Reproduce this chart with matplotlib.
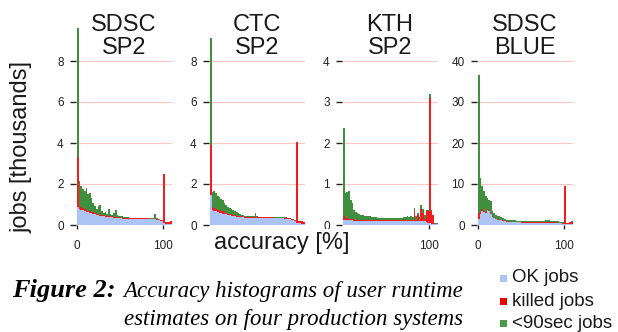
import matplotlib
matplotlib.use('Agg')
import matplotlib.pyplot as plt
from matplotlib.patches import Rectangle

plt.rcParams['font.family'] = ['Liberation Sans', 'DejaVu Sans']

# accuracy bins, 2% wide, 0..110
bin_edges = list(range(0, 112, 2))

titles = [("SDSC", "SP2"), ("CTC", "SP2"), ("KTH", "SP2"), ("SDSC", "BLUE")]
y_ticks = [[0, 2, 4, 6, 8], [0, 2, 4, 6, 8], [0, 1, 2, 3, 4], [0, 10, 20, 30, 40]]
y_tops = [10, 10, 5, 50]
x_ticks = [[0, 100], [], [100], [0, 100]]

# jobs [thousands] per bin, SDSC SP2
ok_sdsc = [0.90, 0.80, 0.75, 0.72, 0.68, 0.65, 0.62, 0.60, 0.57, 0.55,
           0.53, 0.50, 0.48, 0.46, 0.44, 0.42, 0.41, 0.40, 0.40, 0.38,
           0.37, 0.35, 0.34, 0.33, 0.32, 0.32, 0.31, 0.30, 0.30, 0.30,
           0.29, 0.29, 0.29, 0.29, 0.28, 0.28, 0.28, 0.28, 0.28, 0.28,
           0.28, 0.28, 0.27, 0.27, 0.27, 0.28, 0.25, 0.22, 0.20, 0.18,
           0.10, 0.05, 0.05, 0.05, 0.05]
killed_sdsc = [2.40, 0.15, 0.12, 0.10, 0.08, 0.08, 0.08, 0.07, 0.07, 0.06,
               0.06, 0.06, 0.06, 0.05, 0.05, 0.05, 0.05, 0.05, 0.05, 0.05,
               0.05, 0.05, 0.05, 0.05, 0.05, 0.04, 0.04, 0.04, 0.04, 0.04,
               0.04, 0.04, 0.04, 0.04, 0.04, 0.04, 0.04, 0.04, 0.04, 0.04,
               0.04, 0.04, 0.04, 0.04, 0.04, 0.04, 0.04, 0.04, 0.04, 0.05,
               2.40, 0.10, 0.08, 0.10, 0.15]
short_sdsc = [6.30, 1.20, 1.03, 0.93, 0.89, 1.07, 0.80, 0.88, 0.66, 0.44,
              0.36, 0.24, 0.41, 0.49, 0.21, 0.13, 0.16, 0.10, 0.35, 0.12,
              0.08, 0.20, 0.36, 0.12, 0.08, 0.09, 0.07, 0.06, 0.04, 0.04,
              0.03, 0.02, 0.03, 0.02, 0.02, 0.03, 0.02, 0.02, 0.03, 0.02,
              0.02, 0.03, 0.03, 0.02, 0.04, 0.20, 0.04, 0.02, 0.01, 0.00,
              0.00, 0.00, 0.00, 0.00, 0.00]

# CTC SP2
ok_ctc = [1.45, 0.75, 0.70, 0.66, 0.63, 0.60, 0.58, 0.56, 0.54, 0.52,
          0.50, 0.48, 0.46, 0.44, 0.42, 0.41, 0.40, 0.39, 0.38, 0.37,
          0.36, 0.35, 0.35, 0.34, 0.34, 0.34, 0.34, 0.33, 0.33, 0.33,
          0.33, 0.33, 0.33, 0.33, 0.33, 0.33, 0.33, 0.32, 0.32, 0.32,
          0.32, 0.32, 0.32, 0.31, 0.31, 0.30, 0.28, 0.25, 0.22, 0.20,
          0.10, 0.08, 0.08, 0.07, 0.07]
killed_ctc = [2.45, 0.15, 0.12, 0.12, 0.10, 0.12, 0.08, 0.10, 0.07, 0.07,
              0.06, 0.06, 0.06, 0.05, 0.05, 0.05, 0.05, 0.04, 0.04, 0.04,
              0.04, 0.04, 0.04, 0.04, 0.04, 0.04, 0.04, 0.04, 0.04, 0.04,
              0.04, 0.04, 0.04, 0.04, 0.04, 0.04, 0.04, 0.04, 0.04, 0.04,
              0.04, 0.04, 0.04, 0.04, 0.04, 0.04, 0.04, 0.04, 0.04, 0.05,
              3.95, 0.12, 0.10, 0.12, 0.10]
short_ctc = [5.20, 0.70, 0.83, 0.77, 0.67, 0.63, 0.59, 0.54, 0.44, 0.41,
             0.32, 0.31, 0.26, 0.23, 0.19, 0.16, 0.13, 0.12, 0.08, 0.07,
             0.05, 0.05, 0.06, 0.05, 0.06, 0.05, 0.22, 0.05, 0.04, 0.03,
             0.03, 0.02, 0.02, 0.02, 0.02, 0.02, 0.02, 0.02, 0.02, 0.02,
             0.02, 0.02, 0.02, 0.02, 0.02, 0.02, 0.01, 0.01, 0.01, 0.00,
             0.00, 0.00, 0.00, 0.00, 0.00]

# KTH SP2
ok_kth = [0.12, 0.12, 0.12, 0.11, 0.11, 0.11, 0.10, 0.10, 0.10, 0.10,
          0.10, 0.10, 0.10, 0.10, 0.10, 0.10, 0.10, 0.10, 0.10, 0.10,
          0.10, 0.10, 0.10, 0.10, 0.10, 0.10, 0.10, 0.10, 0.10, 0.10,
          0.10, 0.10, 0.10, 0.10, 0.10, 0.10, 0.10, 0.10, 0.10, 0.10,
          0.10, 0.10, 0.10, 0.10, 0.10, 0.10, 0.10, 0.10, 0.08, 0.06,
          0.05, 0.03, 0.02, 0.02, 0.02]
killed_kth = [0.10, 0.05, 0.05, 0.04, 0.04, 0.04, 0.04, 0.03, 0.03, 0.03,
              0.03, 0.03, 0.03, 0.03, 0.03, 0.03, 0.03, 0.03, 0.03, 0.03,
              0.03, 0.03, 0.03, 0.03, 0.03, 0.03, 0.03, 0.03, 0.03, 0.03,
              0.03, 0.03, 0.03, 0.03, 0.03, 0.03, 0.03, 0.03, 0.03, 0.03,
              0.03, 0.25, 0.03, 0.15, 0.03, 0.30, 0.20, 0.05, 0.25, 0.28,
              3.05, 0.32, 0.22, 0.00, 0.00]
short_kth = [2.15, 0.61, 0.63, 0.67, 0.45, 0.39, 0.23, 0.19, 0.16, 0.14,
             0.12, 0.11, 0.10, 0.09, 0.09, 0.08, 0.07, 0.07, 0.06, 0.06,
             0.05, 0.04, 0.04, 0.04, 0.04, 0.03, 0.04, 0.03, 0.04, 0.03,
             0.04, 0.03, 0.04, 0.04, 0.05, 0.06, 0.07, 0.08, 0.07, 0.09,
             0.07, 0.07, 0.09, 0.05, 0.07, 0.10, 0.08, 0.10, 0.03, 0.02,
             0.10, 0.01, 0.01, 0.04, 0.03]

# SDSC BLUE
ok_blue = [1.50, 2.80, 3.50, 3.20, 3.00, 3.60, 3.40, 2.80, 2.00, 1.60,
           1.40, 1.30, 1.20, 1.10, 1.00, 0.90, 0.85, 0.80, 0.75, 0.70,
           0.70, 0.70, 0.65, 0.65, 0.65, 0.60, 0.60, 0.60, 0.60, 0.60,
           0.60, 0.60, 0.60, 0.60, 0.60, 0.60, 0.60, 0.60, 0.60, 0.60,
           0.60, 0.60, 0.60, 0.60, 0.60, 0.55, 0.50, 0.45, 0.40, 0.35,
           0.20, 0.15, 0.15, 0.15, 0.15]
killed_blue = [1.50, 0.40, 0.30, 0.30, 0.25, 0.25, 0.20, 0.20, 0.20, 0.15,
               0.15, 0.15, 0.12, 0.12, 0.10, 0.10, 0.10, 0.10, 0.10, 0.10,
               0.10, 0.10, 0.10, 0.10, 0.10, 0.10, 0.10, 0.10, 0.10, 0.10,
               0.10, 0.10, 0.10, 0.10, 0.10, 0.10, 0.10, 0.10, 0.10, 0.10,
               0.10, 0.10, 0.10, 0.10, 0.10, 0.10, 0.10, 0.10, 0.15, 0.20,
               9.20, 0.35, 0.45, 0.55, 0.70]
short_blue = [33.7, 8.30, 5.60, 4.70, 3.75, 2.75, 2.60, 2.80, 1.10, 1.15,
              0.95, 0.85, 0.78, 0.68, 0.60, 0.50, 0.35, 0.30, 0.30, 0.35,
              0.30, 0.30, 0.30, 0.25, 0.25, 0.25, 0.25, 0.20, 0.20, 0.20,
              0.20, 0.20, 0.22, 0.25, 0.25, 0.30, 0.30, 0.35, 0.35, 0.40,
              0.40, 0.40, 0.35, 0.30, 0.30, 0.30, 0.30, 0.25, 0.15, 0.10,
              0.10, 0.00, 0.00, 0.00, 0.05]

systems = [(ok_sdsc, killed_sdsc, short_sdsc),
           (ok_ctc, killed_ctc, short_ctc),
           (ok_kth, killed_kth, short_kth),
           (ok_blue, killed_blue, short_blue)]

ok_color = '#abc4f4'
killed_color = '#f41c1c'
short_color = '#3f8f3f'

W, H = 618, 332
fig = plt.figure(figsize=(W / 100, H / 100), dpi=100)

axis_x0 = [77, 210, 343, 478]
for i, (ok, killed, short) in enumerate(systems):
    ax = fig.add_axes([(axis_x0[i] - 0.86) / W, (H - 225) / H, 95.5 / W, 205 / H])
    ok_killed = [o + k for o, k in zip(ok, killed)]
    total = [b + s for b, s in zip(ok_killed, short)]
    ax.stairs(ok, bin_edges, baseline=0, fill=True, color=ok_color, lw=0)
    ax.stairs(ok_killed, bin_edges, baseline=ok, fill=True, color=killed_color, lw=0)
    ax.stairs(total, bin_edges, baseline=ok_killed, fill=True, color=short_color, lw=0)

    ax.set_xlim(-1, 110)
    ax.set_ylim(0, y_tops[i])
    ax.set_yticks(y_ticks[i])
    ax.set_xticks(x_ticks[i])
    for s in ax.spines.values():
        s.set_visible(False)
    ax.grid(axis='y', color='#ffc6c6', lw=0.8)
    ax.set_axisbelow(True)
    ax.tick_params(axis='y', length=4, width=1, pad=5, labelsize=8.5, colors='#222222')
    ax.tick_params(axis='x', length=3, width=1, pad=8, labelsize=8.5, colors='#222222')

    cx = (axis_x0[i] - 0.86 + 47.75) / W
    fig.text(cx, 1 - 31 / H, titles[i][0], ha='center', va='baseline', fontsize=17, color='#1a1a1a')
    fig.text(cx, 1 - 54 / H, titles[i][1], ha='center', va='baseline', fontsize=17, color='#1a1a1a')

fig.text(22 / W, 1 - 147 / H, 'jobs [thousands]', rotation=90, ha='center', va='center',
         fontsize=17, color='#1a1a1a')
fig.text(282 / W, 1 - 249 / H, 'accuracy [%]', ha='center', va='baseline', fontsize=17,
         color='#1a1a1a', bbox=dict(facecolor='white', edgecolor='none', pad=2))

# caption
fig.text(12 / W, 1 - 297 / H, 'Figure 2:', family='Liberation Serif', style='italic',
         weight='bold', fontsize=19, va='baseline')
fig.text(463 / W, 1 - 297 / H, 'Accuracy histograms of user runtime', family='Liberation Serif',
         style='italic', fontsize=16.5, va='baseline', ha='right')
fig.text(463 / W, 1 - 325 / H, 'estimates on four production systems', family='Liberation Serif',
         style='italic', fontsize=16.5, va='baseline', ha='right')

# legend
legend_items = [('OK jobs', ok_color, 278), ('killed jobs', '#ee0000', 301), ('<90sec jobs', '#4a9a4a', 323)]
for label, col, yc in legend_items:
    fig.add_artist(Rectangle((500 / W, 1 - (yc + 3.5) / H), 7 / W, 7 / H,
                             transform=fig.transFigure, color=col, lw=0))
    fig.text(512 / W, 1 - yc / H, label, va='center', fontsize=13.5, color='#1a1a1a')

fig.savefig('out.png', dpi=100, facecolor='white')
